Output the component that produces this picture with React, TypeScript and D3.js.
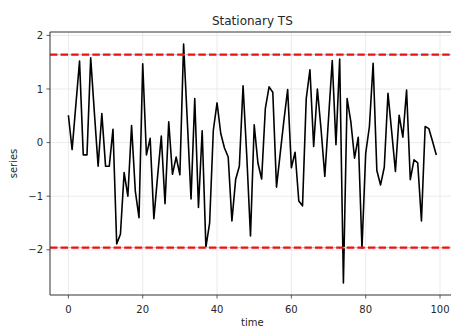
import React from "react";
import * as d3 from "d3";

const series: number[] = [
  0.51, -0.13, 0.7, 1.52, -0.23, -0.23, 1.58, 0.55, -0.44, 0.54,
  -0.44, -0.44, 0.25, -1.89, -1.71, -0.56, -1.0, 0.32, -0.9, -1.4,
  1.47, -0.23, 0.08, -1.42, -0.63, 0.12, -1.14, 0.39, -0.59, -0.27,
  -0.6, 1.84, 0.4, -1.05, 0.82, -1.21, 0.22, -1.95, -1.5, 0.23,
  0.74, 0.17, -0.1, -0.27, -1.46, -0.69, -0.44, 1.06, -0.25, -1.74,
  0.33, -0.38, -0.68, 0.64, 1.04, 0.94, -0.83, -0.2, 0.42, 0.99,
  -0.47, -0.18, -1.09, -1.18, 0.82, 1.36, -0.07, 1.0, 0.24, -0.63,
  0.45, 1.53, -0.04, 1.56, -2.62, 0.82, 0.39, -0.29, 0.1, -1.97,
  -0.2, 0.3, 1.48, -0.52, -0.79, -0.46, 0.92, 0.2, -0.54, 0.51,
  0.1, 0.98, -0.69, -0.32, -0.38, -1.46, 0.3, 0.26, 0.02, -0.23,
];
const timeIdx: number[] = series.map((_, i) => i);
const upperBound = 1.64;
const lowerBound = -1.96;
const xTicks = [0, 20, 40, 60, 80, 100];
const yTicks = [-2, -1, 0, 1, 2];
const title = "Stationary TS";
const xLabel = "time";
const yLabel = "series";

const W = 451;
const H = 327;
const left = 50;
const right = 454.7;
const top = 32;
const bottom = 295;
const FONT = "DejaVu Sans, sans-serif";

export default function App() {
  const n = series.length;
  const xPad = (n - 1) * 0.05;
  const x = d3.scaleLinear().domain([-xPad, n - 1 + xPad]).range([left, right]);
  const [mn, mx] = d3.extent(series) as [number, number];
  const yPad = (mx - mn) * 0.05;
  const y = d3.scaleLinear().domain([mn - yPad, mx + yPad]).range([bottom, top]);
  const line = d3
    .line<number>()
    .x((_, i) => x(timeIdx[i]))
    .y((d) => y(d));

  return (
    <svg
      width={W}
      height={H}
      style={{ position: "absolute", left: 0, top: 0, background: "#fff" }}
      fontFamily={FONT}
    >
      <rect x={0} y={0} width={W} height={H} fill="#fff" />
      <defs>
        <clipPath id="plot">
          <rect x={left} y={top} width={right - left} height={bottom - top} />
        </clipPath>
      </defs>
      {xTicks.map((t) => (
        <line key={"gx" + t} x1={x(t)} x2={x(t)} y1={top} y2={bottom} stroke="#e6e6e6" strokeWidth={0.8} />
      ))}
      {yTicks.map((t) => (
        <line key={"gy" + t} x1={left} x2={right} y1={y(t)} y2={y(t)} stroke="#e6e6e6" strokeWidth={0.8} />
      ))}
      <g clipPath="url(#plot)">
        <path d={line(series) || ""} fill="none" stroke="#000" strokeWidth={1.6} strokeLinejoin="round" />
        {[upperBound, lowerBound].map((b, k) => (
          <g key={"b" + k}>
            <line x1={left} x2={right} y1={y(b)} y2={y(b)} stroke="#b7cfe6" strokeWidth={1.2} />
            <line
              x1={left}
              x2={right}
              y1={y(b)}
              y2={y(b)}
              stroke="#ee1111"
              strokeWidth={2.2}
              strokeDasharray="7.4,3.2"
            />
          </g>
        ))}
      </g>
      <line x1={left} x2={left} y1={top} y2={bottom} stroke="#333" strokeWidth={1} />
      <line x1={left} x2={right} y1={bottom} y2={bottom} stroke="#333" strokeWidth={1} />
      <line x1={left} x2={right} y1={top} y2={top} stroke="#333" strokeWidth={1} />
      {xTicks.map((t) => (
        <g key={"xt" + t}>
          <line x1={x(t)} x2={x(t)} y1={bottom} y2={bottom + 3.5} stroke="#333" strokeWidth={0.8} />
          <text x={x(t)} y={bottom + 18} fontSize={10} textAnchor="middle" fill="#262626">
            {t}
          </text>
        </g>
      ))}
      {yTicks.map((t) => (
        <g key={"yt" + t}>
          <line x1={left - 3.5} x2={left} y1={y(t)} y2={y(t)} stroke="#333" strokeWidth={0.8} />
          <text x={left - 7} y={y(t) + 3.6} fontSize={10} textAnchor="end" fill="#262626">
            {t < 0 ? "\u2212" + Math.abs(t) : String(t)}
          </text>
        </g>
      ))}
      <text x={(left + right) / 2} y={25} fontSize={12} textAnchor="middle" fill="#262626">
        {title}
      </text>
      <text x={(left + right) / 2} y={326} fontSize={10} textAnchor="middle" fill="#262626">
        {xLabel}
      </text>
      <text
        transform={`translate(17,${(top + bottom) / 2}) rotate(-90)`}
        fontSize={10}
        textAnchor="middle"
        fill="#262626"
      >
        {yLabel}
      </text>
    </svg>
  );
}
